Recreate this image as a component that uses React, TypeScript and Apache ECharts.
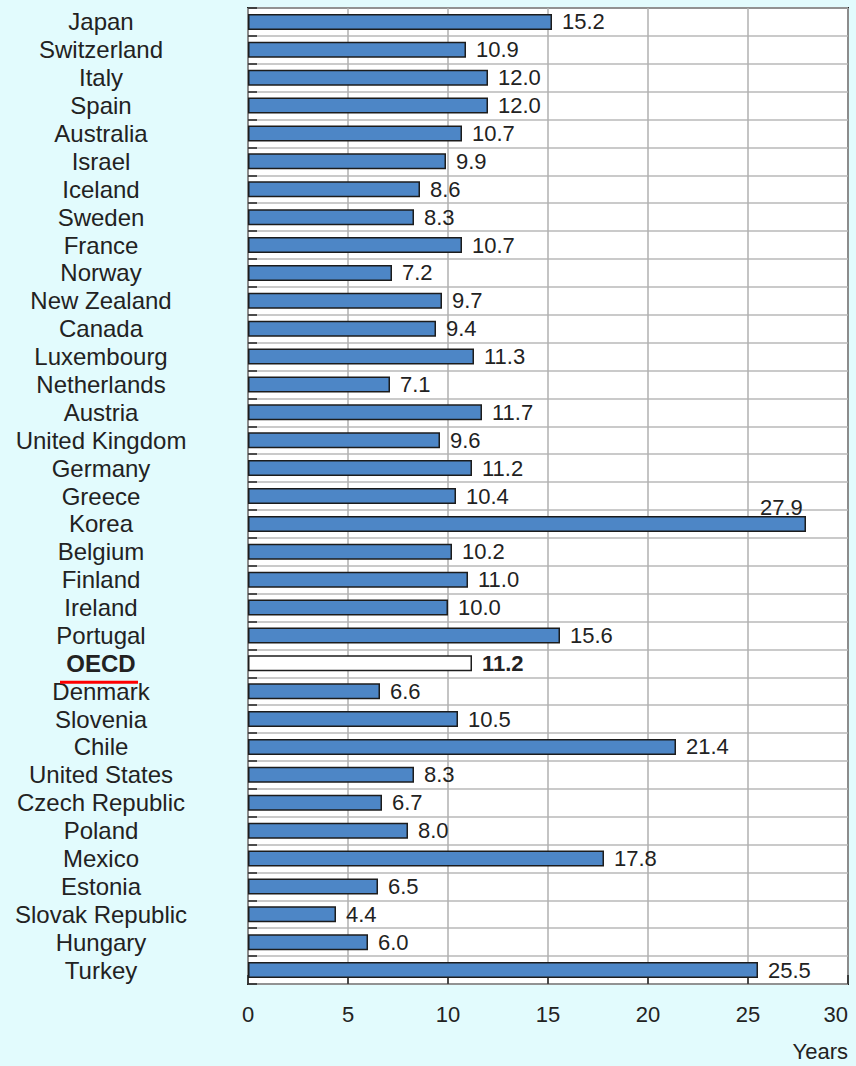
import React, { useEffect, useRef } from "react";
import * as echarts from "echarts";

const countries = [
  "Japan", "Switzerland", "Italy", "Spain", "Australia", "Israel", "Iceland", "Sweden",
  "France", "Norway", "New Zealand", "Canada", "Luxembourg", "Netherlands", "Austria",
  "United Kingdom", "Germany", "Greece", "Korea", "Belgium", "Finland", "Ireland",
  "Portugal", "OECD", "Denmark", "Slovenia", "Chile", "United States", "Czech Republic",
  "Poland", "Mexico", "Estonia", "Slovak Republic", "Hungary", "Turkey",
];
const years = [
  15.2, 10.9, 12.0, 12.0, 10.7, 9.9, 8.6, 8.3,
  10.7, 7.2, 9.7, 9.4, 11.3, 7.1, 11.7,
  9.6, 11.2, 10.4, 27.9, 10.2, 11.0, 10.0,
  15.6, 11.2, 6.6, 10.5, 21.4, 8.3, 6.7,
  8.0, 17.8, 6.5, 4.4, 6.0, 25.5,
];
const xTicks = [0, 5, 10, 15, 20, 25, 30];
const unitLabel = "Years";
const highlight = "OECD";

const FONT = "'Liberation Sans', Arial, sans-serif";
const BG = "#e2fbfd";

export default function App() {
  const ref = useRef<HTMLDivElement>(null);
  useEffect(() => {
    document.body.style.margin = "0";
    document.body.style.background = BG;
    const chart = echarts.init(ref.current!, null, { renderer: "svg" });
    const data = countries.map((c, i) => {
      const item: any = { value: years[i] };
      if (c === highlight) {
        item.itemStyle = { color: "#ffffff" };
        item.label = { fontWeight: "bold" };
      }
      if (c === "Korea") {
        item.label = { position: "right", offset: [-56, -16] };
      }
      return item;
    });
    const yearsText = {
      type: "text", right: 8, top: 1040,
      style: { text: unitLabel, fontSize: 22, fill: "#222", fontFamily: FONT, textAlign: "right" },
    };
    chart.setOption({
      animation: false,
      backgroundColor: BG,
      textStyle: { fontFamily: FONT },
      grid: {
        left: 248, right: 8, top: 8, bottom: 82,
        show: true, backgroundColor: "#ffffff", borderColor: "#222", borderWidth: 2,
        containLabel: false,
      },
      xAxis: {
        type: "value",
        min: xTicks[0],
        max: xTicks[xTicks.length - 1],
        interval: 5,
        axisLine: { show: false },
        axisTick: { show: true, inside: true, length: 9, lineStyle: { color: "#222", width: 1.5 } },
        splitLine: { show: true, lineStyle: { color: "#b0b0b0", width: 1.5 } },
        axisLabel: {
          margin: 19, fontSize: 22, color: "#222", fontFamily: FONT,
          alignMaxLabel: "right",
        },
      },
      yAxis: {
        type: "category",
        data: countries,
        inverse: true,
        axisLine: { show: false },
        axisTick: { show: true, inside: true, length: 9, interval: 0, lineStyle: { color: "#222", width: 1.5 } },
        splitLine: { show: true, interval: 0, lineStyle: { color: "#b8b8b8", width: 1.5 } },
        axisLabel: {
          interval: 0,
          margin: 147, align: "center", fontSize: 24, color: "#222", fontFamily: FONT,
          formatter: (v: string) => (v === highlight ? `{b|${v}}` : v),
          rich: { b: { fontWeight: "bold", fontSize: 24, color: "#222", fontFamily: FONT } },
        },
      },
      series: [
        {
          type: "bar",
          data,
          barWidth: 16,
          itemStyle: { color: "#4d86c6", borderColor: "#1c1c1c", borderWidth: 1.5 },
          label: {
            show: true, position: "right", distance: 10, fontSize: 22, color: "#222",
            fontFamily: FONT, formatter: (p: any) => p.value.toFixed(1),
          },
        },
      ],
      graphic: [yearsText],
    });
    const idx = countries.indexOf(highlight);
    const y = chart.convertToPixel({ yAxisIndex: 0 }, idx) as number;
    chart.setOption({
      graphic: [
        yearsText,
        {
          type: "line",
          shape: { x1: 60, y1: y + 19, x2: 138, y2: y + 19 },
          style: { stroke: "#ff0000", lineWidth: 3 },
          z: 100,
        },
      ],
    });
    return () => chart.dispose();
  }, []);
  return <div ref={ref} style={{ width: 856, height: 1066 }} />;
}
